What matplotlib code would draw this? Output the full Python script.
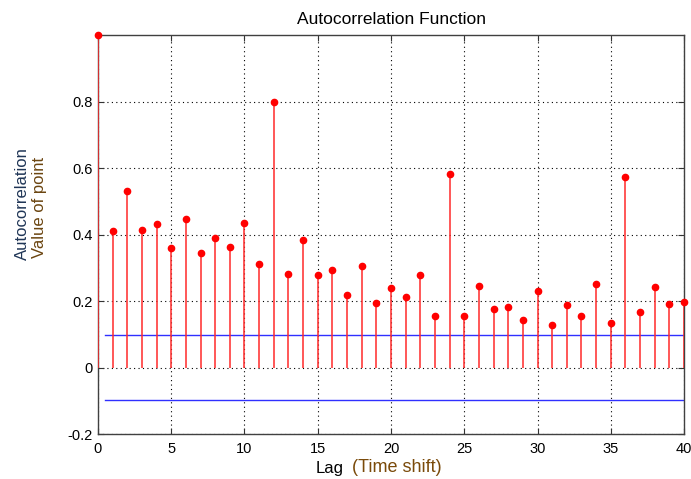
import numpy as np
import matplotlib
matplotlib.use("Agg")
import matplotlib.pyplot as plt

# ── Data ──────────────────────────────────────────────────────────────────────
lags = np.arange(0, 41)
acf = [1.000, 0.411, 0.531, 0.414, 0.432, 0.358, 0.446, 0.344, 0.390, 0.362,
       0.435, 0.310, 0.800, 0.282, 0.383, 0.278, 0.292, 0.219, 0.306, 0.194,
       0.240, 0.212, 0.278, 0.156, 0.583, 0.156, 0.246, 0.177, 0.183, 0.142,
       0.230, 0.128, 0.188, 0.156, 0.250, 0.135, 0.573, 0.166, 0.243, 0.191,
       0.198]
bound = 0.097
bound_span = [0.5, 40]
xticks = [0, 5, 10, 15, 20, 25, 30, 35, 40]
yticks = [-0.2, 0, 0.2, 0.4, 0.6, 0.8]
yticklabels = ["-0.2", "0", "0.2", "0.4", "0.6", "0.8"]

plt.rcParams["font.family"] = ["Liberation Sans", "DejaVu Sans"]

fig = plt.figure(figsize=(6.91, 4.79), dpi=100)
ax = fig.add_axes([0.1418, 0.0939, 0.8481, 0.8330])

# stems
ax.vlines(lags, 0, acf, color="#ff2a2a", lw=1.1, zorder=3)
ax.plot(lags, acf, "o", color="#ff0000", ms=4.5, zorder=4, clip_on=False)

# confidence bounds
ax.plot(bound_span, [bound, bound], color="#3030ff", lw=1.0, zorder=2)
ax.plot(bound_span, [-bound, -bound], color="#3030ff", lw=1.0, zorder=2)

ax.set_xlim(0, 40)
ax.set_ylim(-0.2, 1.0)
ax.set_xticks(xticks)
ax.set_yticks(yticks)
ax.set_yticklabels(yticklabels)
ax.grid(True, color="black", linestyle=(0, (1, 3)), lw=0.8)
ax.tick_params(direction="in", top=True, right=True, length=4,
               labelsize=10.5, colors="#333333", labelcolor="black")
ax.tick_params(axis="x", pad=6)
ax.tick_params(axis="y", pad=4)
for s in ax.spines.values():
    s.set_color("#404040")
    s.set_linewidth(1.0)

ax.set_title("Autocorrelation Function", fontsize=12.5, pad=8)

# axis labels
fig.text(0.497, 0.006, "Lag", fontsize=12, ha="right", va="bottom")
fig.text(0.509, 0.006, "(Time shift)", fontsize=13, ha="left", va="bottom",
         color="#7a4a0a")
fig.text(0.032, 0.574, "Autocorrelation", fontsize=12, rotation=90,
         ha="center", va="center", color="#1f3556")
fig.text(0.057, 0.566, "Value of point", fontsize=12, rotation=90,
         ha="center", va="center", color="#6b4510")

fig.savefig("out.png", dpi=100)
